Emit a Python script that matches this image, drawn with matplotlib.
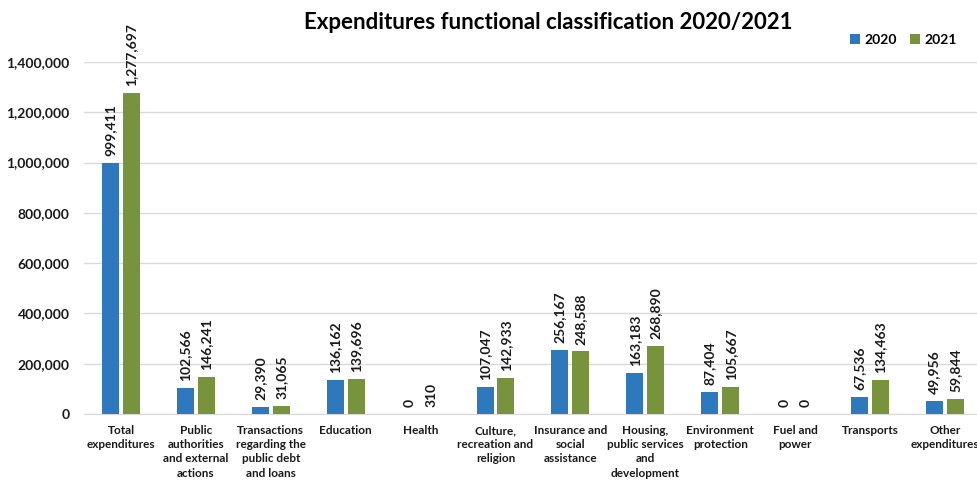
import numpy as np
import matplotlib
matplotlib.use('Agg')
import matplotlib.pyplot as plt
from matplotlib.ticker import FuncFormatter

categories = [
    'Total\nexpenditures',
    'Public\nauthorities\nand external\nactions',
    'Transactions\nregarding the\npublic debt\nand loans',
    'Education',
    'Health',
    'Culture,\nrecreation and\nreligion',
    'Insurance and\nsocial\nassistance',
    'Housing,\npublic services\nand\ndevelopment',
    'Environment\nprotection',
    'Fuel and\npower',
    'Transports',
    'Other\nexpenditures',
]
values_2020 = [999411, 102566, 29390, 136162, 0, 107047, 256167, 163183, 87404, 0, 67536, 49956]
values_2021 = [1277697, 146241, 31065, 139696, 310, 142933, 248588, 268890, 105667, 0, 134463, 59844]

plt.rcParams['font.family'] = ['Lato', 'DejaVu Sans']
plt.rcParams['font.weight'] = 'bold'

fig = plt.figure(figsize=(9.77, 4.8), dpi=100)
ax = fig.add_axes([0.0855, 0.1375, 0.920, 0.7335])

x = np.arange(len(categories))
width = 0.227
off = 0.14

b1 = ax.bar(x - off, values_2020, width, color='#2E78BD', label='2020', zorder=3)
b2 = ax.bar(x + off, values_2021, width, color='#77933C', label='2021', zorder=3)

for bars in (b1, b2):
    for rect in bars:
        h = rect.get_height()
        ax.annotate(f'{h:,.0f}', (rect.get_x() + rect.get_width() / 2, h),
                    xytext=(0, 5), textcoords='offset points',
                    rotation=90, ha='center', va='bottom',
                    fontsize=10, fontweight='bold', color='#1a1a1a')

ax.set_xlim(-0.5, len(categories) - 0.5)
ax.set_ylim(0, 1400000)
ax.set_yticks(np.arange(0, 1400001, 200000))
ax.yaxis.set_major_formatter(FuncFormatter(lambda v, p: f'{v:,.0f}'))
ax.grid(axis='y', color='#D9D9D9', linewidth=1, zorder=0)
ax.set_xticks(x)
ax.set_xticklabels(categories, fontsize=8.5, fontweight='bold', linespacing=1.35, va='top')
for lbl in ax.get_yticklabels():
    lbl.set_fontsize(10)
    lbl.set_fontweight('bold')

for s in ['top', 'right', 'left']:
    ax.spines[s].set_visible(False)
ax.spines['bottom'].set_color('#D9D9D9')
ax.tick_params(axis='both', length=0, colors='#1a1a1a')
ax.tick_params(axis='y', pad=10)
ax.tick_params(axis='x', pad=8)

fig.text(0.561, 0.953, 'Expenditures functional classification 2020/2021',
         ha='center', va='center', fontsize=16, fontweight='bold')

ax.legend(loc='upper right', bbox_to_anchor=(0.992, 0.955), bbox_transform=fig.transFigure,
          ncol=2, frameon=False, handlelength=0.7, handleheight=0.7,
          handletextpad=0.3, columnspacing=1.0, prop={'weight': 'bold', 'size': 10})

fig.savefig('out.png', dpi=100)
